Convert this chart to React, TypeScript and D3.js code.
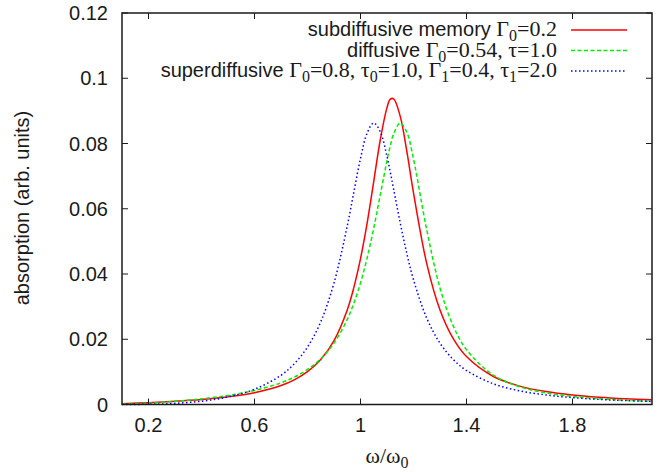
import React from "react";
import * as d3 from "d3";

const omega = [0.1, 0.2, 0.3, 0.4, 0.5, 0.6, 0.7, 0.75, 0.8, 0.85, 0.9, 0.95, 0.975, 1.0, 1.025, 1.05, 1.075, 1.1, 1.1125, 1.125, 1.15, 1.175, 1.2, 1.25, 1.3, 1.35, 1.4, 1.5, 1.6, 1.7, 1.8, 1.9, 2.0, 2.1];
const subdiffusive = [0.00024, 0.00056, 0.00097, 0.00153, 0.00235, 0.00363, 0.00583, 0.00757, 0.01007, 0.01379, 0.0196, 0.029, 0.0359, 0.0447, 0.0556, 0.0684, 0.0813, 0.091, 0.0936, 0.0937, 0.0883, 0.0775, 0.0649, 0.0432, 0.029, 0.0202, 0.0147, 0.00866, 0.00564, 0.00395, 0.00291, 0.00223, 0.00176, 0.00142];
const diffusive = [0.000108, 0.00043, 0.000961, 0.001721, 0.002777, 0.004295, 0.006654, 0.008387, 0.010734, 0.014025, 0.01882, 0.02607, 0.03106, 0.03727, 0.04492, 0.05409, 0.06442, 0.07477, 0.0793, 0.08294, 0.08629, 0.08338, 0.07524, 0.05354, 0.03573, 0.0241, 0.01681, 0.009068, 0.005459, 0.003553, 0.002449, 0.001761, 0.001309, 0.000999];
const superdiffusive = [0.000005, 0.000073, 0.000347, 0.001018, 0.002326, 0.004668, 0.008958, 0.012472, 0.017609, 0.025358, 0.037248, 0.05472, 0.06517, 0.07537, 0.08318, 0.08628, 0.08356, 0.07603, 0.07117, 0.066, 0.05564, 0.04623, 0.03825, 0.02645, 0.01881, 0.0138, 0.01042, 0.00638, 0.0042, 0.00292, 0.00211, 0.00157, 0.0012, 0.00094];

const xTicks = [0.2, 0.6, 1.0, 1.4, 1.8];
const xTickLabels = ["0.2", "0.6", "1", "1.4", "1.8"];
const yTicks = [0, 0.02, 0.04, 0.06, 0.08, 0.1, 0.12];
const yTickLabels = ["0", "0.02", "0.04", "0.06", "0.08", "0.1", "0.12"];

// legend rows: [text, kind] where kind: "s" sans, "r" serif, "b" serif subscript
const legendSegments: [string, string][][] = [
  [["subdiffusive memory ", "s"], ["Γ", "r"], ["0", "b"], ["=0.2", "r"]],
  [["diffusive ", "s"], ["Γ", "r"], ["0", "b"], ["=0.54, τ=1.0", "r"]],
  [["superdiffusive ", "s"], ["Γ", "r"], ["0", "b"], ["=0.8, τ", "r"], ["0", "b"], ["=1.0, Γ", "r"], ["1", "b"], ["=0.4, τ", "r"], ["1", "b"], ["=2.0", "r"]],
];

const W = 663, H = 472;
const L = 122, R = 652, T = 13, B = 404.5;
const sans = "'Liberation Sans', Arial, Helvetica, sans-serif";
const serif = "'Liberation Serif', 'Times New Roman', serif";
const ink = "#1a1a1a";

export default function App() {
  const x = d3.scaleLinear().domain([0.1, 2.1]).range([L, R]);
  const y = d3.scaleLinear().domain([0, 0.12]).range([B, T]);
  const mk = (vals: number[]) =>
    d3.line<number>()
      .x((_, i) => x(omega[i]))
      .y((v) => y(v))
      .curve(d3.curveCatmullRom.alpha(0.5))(vals) || "";

  const series = [
    { vals: subdiffusive, color: "#ff0000", dash: undefined as string | undefined },
    { vals: diffusive, color: "#00ee00", dash: "4,2.5" },
    { vals: superdiffusive, color: "#0000ff", dash: "1.5,2.5" },
  ];

  const tk = 6;
  const rowY = [30, 50.5, 71];

  const renderRow = (segs: [string, string][]) => {
    let shifted = false;
    return segs.map(([txt, kind], j) => {
      let dy = 0;
      if (kind === "b" && !shifted) { dy = 5; shifted = true; }
      else if (kind !== "b" && shifted) { dy = -5; shifted = false; }
      const props: any = {};
      if (dy) props.dy = dy;
      if (kind === "s") { props.fontFamily = sans; props.fontSize = 20; }
      else if (kind === "r") { props.fontFamily = serif; props.fontSize = 22; }
      else { props.fontFamily = serif; props.fontSize = 16; }
      return <tspan key={j} {...props}>{txt}</tspan>;
    });
  };

  return (
    <svg width={W} height={H} style={{ position: "absolute", left: 0, top: 0, background: "#fff" }}>
      <rect x={0} y={0} width={W} height={H} fill="#fff" />
      {series.map((s, i) => (
        <path key={i} d={mk(s.vals)} fill="none" stroke={s.color} strokeWidth={1.5} strokeDasharray={s.dash} />
      ))}
      <rect x={L} y={T} width={R - L} height={B - T} fill="none" stroke={ink} strokeWidth={1.5} />
      {xTicks.map((t, i) => (
        <g key={"x" + i}>
          <line x1={x(t)} x2={x(t)} y1={B} y2={B - tk} stroke={ink} strokeWidth={1} />
          <line x1={x(t)} x2={x(t)} y1={T} y2={T + tk} stroke={ink} strokeWidth={1} />
          <text x={x(t)} y={432} textAnchor="middle" fontFamily={sans} fontSize={20} fill={ink}>{xTickLabels[i]}</text>
        </g>
      ))}
      {yTicks.map((t, i) => (
        <g key={"y" + i}>
          <line x1={L} x2={L + tk} y1={y(t)} y2={y(t)} stroke={ink} strokeWidth={1} />
          <line x1={R} x2={R - tk} y1={y(t)} y2={y(t)} stroke={ink} strokeWidth={1} />
          <text x={108} y={y(t) + 7} textAnchor="end" fontFamily={sans} fontSize={20} fill={ink}>{yTickLabels[i]}</text>
        </g>
      ))}
      <text transform={`translate(29,208) rotate(-90)`} textAnchor="middle" fontFamily={sans} fontSize={20} fill={ink}>
        absorption (arb. units)
      </text>
      <text x={(L + R) / 2} y={463} textAnchor="middle" fontFamily={serif} fontSize={22} fill={ink}>
        <tspan>ω/ω</tspan><tspan dy={5} fontSize={16}>0</tspan>
      </text>
      {legendSegments.map((segs, i) => (
        <g key={"lg" + i}>
          <text x={557} y={rowY[i] + 6} textAnchor="end" fill={ink}>{renderRow(segs)}</text>
          <line x1={571} x2={627} y1={rowY[i]} y2={rowY[i]} stroke={series[i].color} strokeWidth={1.5} strokeDasharray={series[i].dash} />
        </g>
      ))}
    </svg>
  );
}
